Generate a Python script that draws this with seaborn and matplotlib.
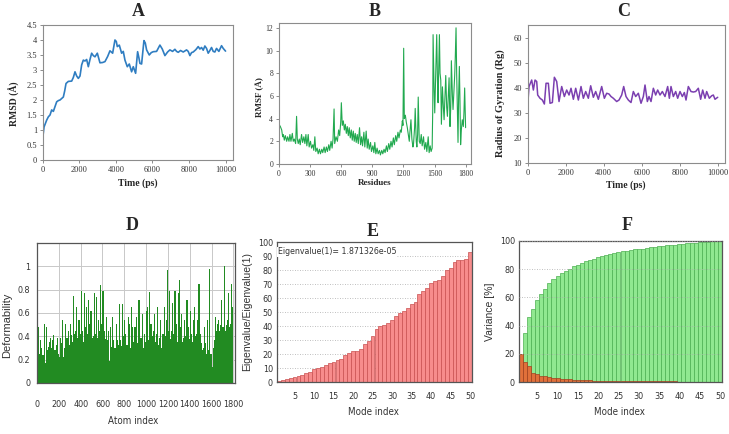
import numpy as np
import matplotlib
matplotlib.use("Agg")
import matplotlib.pyplot as plt
import seaborn as sns

# ---- data ----
# A: RMSD over time
rmsd_time = [0, 73, 218, 309, 400, 491, 582, 673, 764, 855, 946, 1037, 1128, 1201, 1274, 1401,
             1583, 1674, 1765, 1856, 1947, 2038, 2129, 2220, 2311, 2402, 2493, 2584, 2675, 2766,
             2857, 2985, 3130, 3276, 3403, 3549, 3676, 3822, 3949, 4022, 4077, 4186, 4313, 4404,
             4495, 4623, 4732, 4859, 4950, 5078, 5187, 5260, 5314, 5405, 5533, 5606, 5678, 5824,
             5933, 6042, 6224, 6406, 6534, 6679, 6825, 6952, 7098, 7225, 7316, 7407, 7534, 7680,
             7862, 7953, 8044, 8135, 8226, 8372, 8499, 8590, 8681, 8772, 8863, 8954, 9045, 9136,
             9227, 9318, 9409, 9500, 9628, 9774, 9865, 9992]
rmsd_val = [0.72, 1.10, 1.33, 1.44, 1.50, 1.67, 1.62, 1.78, 1.94, 1.98, 2.00, 2.05, 2.10, 2.30, 2.55, 2.62,
            2.63, 2.75, 2.94, 2.80, 2.72, 2.80, 3.17, 3.33, 3.30, 3.35, 3.11, 3.35, 3.56, 3.48,
            3.44, 3.56, 3.24, 3.25, 3.28, 3.45, 3.64, 3.56, 4.00, 3.95, 3.78, 3.83, 3.56, 3.62,
            3.33, 3.11, 3.20, 2.94, 3.11, 2.89, 3.61, 3.40, 3.22, 3.20, 3.98, 3.90, 3.67, 3.50,
            3.58, 3.61, 3.62, 3.83, 3.70, 3.48, 3.60, 3.67, 3.62, 3.69, 3.62, 3.59, 3.65, 3.60,
            3.67, 3.62, 3.48, 3.58, 3.60, 3.68, 3.78, 3.70, 3.75, 3.66, 3.80, 3.72, 3.56, 3.65,
            3.75, 3.62, 3.60, 3.72, 3.62, 3.81, 3.72, 3.63]

# B: RMSF per residue
rmsf_res = [0, 3, 16, 29, 38, 45, 54, 64, 77, 86, 99, 108, 118, 131, 140, 150, 163, 172, 179, 188,
            198, 207, 220, 230, 242, 252, 262, 271, 284, 293, 306, 316, 329, 338, 348, 357, 370, 380,
            392, 402, 415, 424, 437, 447, 459, 469, 482, 491, 504, 514, 523, 533, 539, 552, 565, 577,
            587, 597, 603, 612, 622, 632, 641, 651, 660, 670, 679, 689, 699, 708, 718, 727, 737, 746,
            756, 766, 778, 788, 798, 807, 820, 829, 842, 852, 861, 871, 884, 893, 906, 916, 925, 935,
            947, 957, 970, 979, 992, 1002, 1014, 1024, 1037, 1046, 1059, 1069, 1081, 1091, 1104, 1113,
            1126, 1136, 1148, 1158, 1171, 1180, 1190, 1196, 1203, 1209, 1219, 1228, 1238, 1247, 1257,
            1263, 1273, 1282, 1292, 1298, 1308, 1314, 1324, 1330, 1337, 1343, 1353, 1362, 1372, 1381,
            1394, 1404, 1416, 1426, 1439, 1448, 1458, 1467, 1477, 1483, 1486, 1496, 1502, 1512, 1521,
            1528, 1534, 1541, 1547, 1553, 1560, 1566, 1576, 1585, 1592, 1601, 1608, 1617, 1624, 1633,
            1640, 1649, 1656, 1662, 1672, 1678, 1687, 1694, 1700, 1707, 1713, 1720, 1726, 1732, 1739,
            1745, 1751, 1758, 1767, 1777, 1783, 1790, 1799]
rmsf_val = [3.0, 3.5, 3.3, 3.0, 2.4, 2.6, 2.1, 2.5, 2.0, 2.4, 2.0, 2.6, 2.0, 2.7, 2.0, 2.2, 1.8, 4.2, 2.2, 1.8,
            2.2, 1.7, 2.6, 1.9, 2.4, 1.8, 2.6, 1.6, 2.6, 1.5, 2.0, 1.4, 1.7, 1.2, 2.4, 1.1, 1.4, 0.9,
            1.3, 0.9, 1.3, 1.0, 1.5, 1.0, 1.5, 1.1, 1.7, 1.2, 2.0, 1.4, 2.2, 4.85, 1.8, 2.4, 2.0, 3.0,
            2.5, 3.7, 5.4, 3.4, 3.8, 3.0, 3.5, 2.7, 3.3, 2.5, 3.2, 2.3, 3.0, 2.1, 2.9, 2.0, 2.7, 1.9,
            2.6, 1.8, 3.2, 1.7, 2.4, 1.6, 2.8, 1.5, 2.9, 1.4, 2.2, 1.3, 1.9, 1.1, 1.6, 1.0, 1.9, 0.9,
            1.4, 0.9, 1.2, 0.8, 1.2, 0.9, 1.3, 1.0, 1.6, 1.1, 1.8, 1.3, 2.0, 1.5, 2.3, 1.7,
            2.5, 2.0, 2.8, 2.3, 3.0, 2.8, 3.8, 3.4, 10.2, 4.0, 4.3, 3.7, 3.2, 2.6, 2.0,
            2.8, 3.9, 2.2, 1.5, 1.8, 3.2, 4.9, 2.0, 1.5, 2.6, 5.9, 2.0, 1.8, 2.6, 1.6,
            2.4, 1.3, 1.9, 1.1, 2.4, 1.0, 1.6, 1.1, 1.4, 5.0, 11.4, 6.5, 4.5, 8.0, 11.4,
            7.5, 5.4, 8.5, 11.4, 8.0, 7.4, 3.5, 6.8, 5.0, 3.9, 6.0, 7.8, 5.0, 4.2, 6.0,
            7.6, 3.3, 5.0, 9.1, 6.0, 4.8, 6.5, 7.8, 9.5, 12.0, 8.0, 4.5, 1.9, 6.0, 8.6,
            5.5, 1.7, 3.0, 3.9, 3.3, 4.5, 6.7, 3.2]

# C: radius of gyration over time
rg_time = [0, 70, 210, 298, 386, 474, 526, 649, 772, 877, 965, 1087, 1175, 1298, 1403, 1526, 1649,
           1789, 1929, 2052, 2175, 2280, 2403, 2526, 2666, 2806, 2929, 3052, 3192, 3315, 3455, 3578,
           3718, 3894, 4034, 4157, 4280, 4385, 4508, 4683, 4806, 4946, 5052, 5174, 5297, 5437, 5560,
           5683, 5823, 5964, 6086, 6174, 6297, 6385, 6490, 6613, 6735, 6841, 6964, 7086, 7226, 7367,
           7455, 7542, 7665, 7788, 7893, 8016, 8139, 8244, 8332, 8454, 8595, 8717, 8840, 8980, 9103,
           9209, 9332, 9419, 9559, 9682, 9770, 9858, 10000]
rg_val = [33.3, 40.7, 43.3, 39.3, 43.3, 42.7, 37.3, 36.0, 35.3, 33.7, 42.0, 42.0, 34.0, 34.3, 44.4, 42.7, 34.7,
          40.7, 36.7, 39.3, 37.3, 40.0, 35.6, 40.0, 35.3, 40.7, 36.0, 38.7, 36.0, 41.0, 36.4, 38.7,
          35.6, 40.7, 36.0, 38.0, 37.7, 36.7, 36.0, 34.7, 35.3, 37.3, 40.7, 36.7, 35.3, 34.3, 38.7,
          36.7, 38.0, 34.0, 36.7, 41.3, 34.7, 36.7, 34.7, 40.0, 37.3, 39.3, 37.3, 38.7, 36.7, 40.7,
          36.0, 40.7, 36.7, 38.7, 36.0, 38.7, 36.7, 38.3, 35.3, 40.7, 38.7, 38.5, 38.7, 40.0, 35.6,
          39.3, 36.0, 38.7, 36.0, 37.0, 37.3, 35.6, 36.4]

# D: deformability, one value per 10 atoms
deform = [0.85, 0.48, 0.25, 0.37, 0.30, 0.24, 0.51, 0.17, 0.48, 0.28,
          0.31, 0.35, 0.39, 0.30, 0.37, 0.41, 0.28, 0.33, 0.39, 0.25,
          0.22, 0.39, 0.34, 0.54, 0.22, 0.30, 0.51, 0.39, 0.45, 0.33,
          0.51, 0.41, 0.35, 0.75, 0.42, 0.45, 0.65, 0.39, 0.54, 0.42,
          0.79, 0.45, 0.35, 0.77, 0.48, 0.65, 0.42, 0.71, 0.51, 0.62,
          0.39, 0.40, 0.77, 0.42, 0.74, 0.39, 0.54, 0.45, 0.84, 0.51,
          0.79, 0.45, 0.38, 0.57, 0.37, 0.45, 0.19, 0.48, 0.31, 0.57,
          0.37, 0.30, 0.51, 0.37, 0.33, 0.68, 0.37, 0.32, 0.68, 0.40,
          0.54, 0.42, 0.33, 0.57, 0.51, 0.30, 0.65, 0.48, 0.35, 0.48,
          0.48, 0.57, 0.34, 0.71, 0.39, 0.39, 0.59, 0.30, 0.42, 0.35,
          0.62, 0.65, 0.37, 0.78, 0.51, 0.40, 0.45, 0.59, 0.35, 0.42,
          0.65, 0.33, 0.39, 0.54, 0.30, 0.42, 0.65, 0.40, 0.54, 0.97,
          0.45, 0.79, 0.38, 0.45, 0.69, 0.42, 0.79, 0.51, 0.35, 0.77,
          0.88, 0.48, 0.59, 0.35, 0.39, 0.54, 0.40, 0.71, 0.48, 0.38,
          0.62, 0.42, 0.35, 0.54, 0.65, 0.40, 0.42, 0.54, 0.85, 0.42,
          0.34, 0.28, 0.30, 0.48, 0.34, 0.25, 0.54, 0.28, 0.98, 0.25,
          0.14, 0.30, 0.37, 0.57, 0.45, 0.51, 0.54, 0.45, 0.50, 0.71,
          0.48, 1.00, 0.45, 0.50, 0.54, 0.77, 0.48, 0.51, 0.85, 0.65]
atom_idx = list(range(0, 10 * len(deform), 10))

# E: eigenvalues relative to the first
modes = list(range(1, 51))
eigen_rel = [0.5, 1.5, 2, 3, 3.5, 4, 5, 6.5, 7, 9, 10, 11, 12.5, 13.5, 14.5, 15.5, 16.5, 19, 20.5, 22,
             22, 23.5, 27.5, 29.5, 33, 38, 40, 41, 42.5, 44, 47, 49, 50.5, 53, 56, 57, 63, 65, 67.5, 71,
             72, 73, 76, 80, 81.5, 86, 87, 87.5, 88, 93]

# F: individual and cumulative variance
var_indiv = [20, 14.5, 11, 6.5, 5.5, 4.5, 4, 3.5, 3, 2.5, 2.2, 2, 1.8, 1.6, 1.5, 1.3, 1.2, 1.1, 1.0, 0.9,
             0.85, 0.8, 0.75, 0.7, 0.65, 0.6, 0.58, 0.55, 0.52, 0.5, 0.48, 0.46, 0.44, 0.42, 0.4, 0.39,
             0.38, 0.37, 0.36, 0.35, 0.34, 0.33, 0.32, 0.31, 0.3, 0.3, 0.3, 0.3, 0.3, 0.3]
var_cumul = [20, 34.8, 46, 52, 58, 62.6, 66, 70, 73, 75, 77, 79, 80.4, 82, 83, 84.6, 86, 86.8, 87.5, 88.4,
             89.4, 90.3, 90.8, 91.5, 92.2, 92.7, 93, 93.6, 94, 94.5, 94.5, 95, 95.5, 96, 96.2, 96.7,
             97, 97.2, 97.4, 97.9, 98.1, 98.3, 98.6, 98.8, 99, 99.3, 99.5, 99.8, 100, 100]

sns.set_style("white")
serif = "Liberation Serif"
narrow = "DejaVu Sans"

W, H = 729, 434
fig = plt.figure(figsize=(W / 100, H / 100), dpi=100)


def rect(l, t, r, b):
    return [l / W, 1 - b / H, (r - l) / W, (b - t) / H]


def excel_axes(ax):
    for s in ax.spines.values():
        s.set_color("#8c8c8c")
        s.set_linewidth(0.8)
    ax.tick_params(direction="out", length=2.5, width=0.7, color="#8c8c8c", pad=1.5,
                   labelsize=6, bottom=True, left=True)
    for lab in ax.get_xticklabels() + ax.get_yticklabels():
        lab.set_family(serif)
        lab.set_color("#333333")


# ---- A ----
axA = fig.add_axes(rect(42.7, 25, 233, 160))
sns.lineplot(x=rmsd_time, y=rmsd_val, ax=axA, color="#2F7DC1", lw=1.2)
axA.set_xlim(0, 10400)
axA.set_ylim(0, 4.5)
axA.set_xticks([0, 2000, 4000, 6000, 8000, 10000])
axA.set_yticks([0, 0.5, 1, 1.5, 2, 2.5, 3, 3.5, 4, 4.5])
axA.set_yticklabels(["0", "0.5", "1", "1.5", "2", "2.5", "3", "3.5", "4", "4.5"])
excel_axes(axA)
axA.set_xlabel("Time (ps)", family=serif, weight="bold", fontsize=7, va="center")
axA.xaxis.set_label_coords(0.5, -0.17)
axA.set_ylabel("RMSD (Å)", family=serif, weight="bold", fontsize=7, va="center")
axA.yaxis.set_label_coords(-0.146, 0.42)

# ---- B ----
axB = fig.add_axes(rect(278.7, 23.3, 471, 164))
sns.lineplot(x=rmsf_res, y=rmsf_val, ax=axB, color="#21A94F", lw=0.8)
axB.set_xlim(0, 1851)
axB.set_ylim(0, 12.4)
axB.set_xticks([0, 300, 600, 900, 1200, 1500, 1800])
axB.set_yticks([0, 2, 4, 6, 8, 10, 12])
excel_axes(axB)
axB.tick_params(labelsize=5.5)
axB.set_xlabel("Residues", family=serif, weight="bold", fontsize=6.5, va="center")
axB.xaxis.set_label_coords(0.5, -0.135)
axB.set_ylabel("RMSF (Å)", family=serif, weight="bold", fontsize=6.5, va="center")
axB.yaxis.set_label_coords(-0.097, 0.476)

# ---- C ----
axC = fig.add_axes(rect(527.7, 25, 725, 163.3))
sns.lineplot(x=rg_time, y=rg_val, ax=axC, color="#7B3FB0", lw=1.1)
axC.set_xlim(0, 10384)
axC.set_ylim(10, 65.3)
axC.set_xticks([0, 2000, 4000, 6000, 8000, 10000])
axC.set_yticks([10, 20, 30, 40, 50, 60])
excel_axes(axC)
axC.set_xlabel("Time (ps)", family=serif, weight="bold", fontsize=7, va="center")
axC.xaxis.set_label_coords(0.497, -0.157)
axC.set_ylabel("Radius of Gyration (Rg)", family=serif, weight="bold", fontsize=7.5, va="center")
axC.yaxis.set_label_coords(-0.137, 0.436)


def gnu_axes(ax, pad_x, pad_y):
    for s in ax.spines.values():
        s.set_color("#555555")
        s.set_linewidth(0.9)
    ax.tick_params(length=0, labelsize=6.5, labelcolor="#333333", pad=pad_x, axis="x")
    ax.tick_params(length=0, labelsize=6.5, labelcolor="#333333", pad=pad_y, axis="y")
    for lab in ax.get_xticklabels() + ax.get_yticklabels():
        lab.set_family(narrow)
        lab.set_fontstretch("condensed")


# ---- D ----
axD = fig.add_axes(rect(37, 243, 235, 383))
axD.bar(atom_idx, deform, width=10, align="edge", color="#228B22", linewidth=0)
axD.set_xlim(0, 1815)
axD.set_ylim(0, 1.2)
axD.set_xticks(range(0, 1801, 200))
axD.set_yticks([0, 0.2, 0.4, 0.6, 0.8, 1.0])
axD.set_yticklabels(["0", "0.2", "0.4", "0.6", "0.8", "1"])
axD.grid(True, color="#c8c8c8", lw=0.7)
axD.set_axisbelow(True)
gnu_axes(axD, 12, 5)
axD.set_xlabel("Atom index", family=narrow, fontstretch="condensed", fontsize=7,
               color="#333333", va="center")
axD.xaxis.set_label_coords(0.485, -0.269)
axD.set_ylabel("Deformability", family="Liberation Sans", fontsize=8, color="#333333", va="center")
axD.yaxis.set_label_coords(-0.15, 0.414)

# ---- E ----
axE = fig.add_axes(rect(277, 242, 472, 382))
sns.barplot(x=modes, y=eigen_rel, ax=axE, color="#F78C8C", edgecolor="#C85050",
            linewidth=0.5, width=1.0, saturation=1, errorbar=None)
axE.set_xlim(-0.5, 49.5)
axE.set_ylim(0, 100)
axE.set_xticks(range(4, 50, 5))
axE.set_xticklabels([str(m) for m in range(5, 51, 5)])
axE.set_yticks(range(0, 101, 10))
axE.yaxis.grid(True, color="#aaaaaa", lw=0.6, ls=(0, (1, 2)))
axE.set_axisbelow(True)
gnu_axes(axE, 7, 3)
axE.set_xlabel("Mode index", family=narrow, fontstretch="condensed", fontsize=7,
               color="#333333", va="center")
axE.xaxis.set_label_coords(0.494, -0.212)
axE.set_ylabel("Eigenvalue/Eigenvalue(1)", family="Liberation Sans", fontsize=7.5,
               color="#333333", va="center")
axE.yaxis.set_label_coords(-0.152, 0.502)
axE.text(0.005, 0.93, "Eigenvalue(1)= 1.871326e-05", transform=axE.transAxes, family=narrow,
         fontstretch="condensed", fontsize=6.3, color="#333333", va="center", ha="left",
         bbox=dict(facecolor="white", edgecolor="none", pad=0.5))

# ---- F ----
axF = fig.add_axes(rect(519, 241, 722, 382))
sns.barplot(x=modes, y=var_cumul, ax=axF, color="#90E890", edgecolor="#4CAF50",
            linewidth=0.5, width=1.0, saturation=1, errorbar=None)
sns.barplot(x=modes, y=var_indiv, ax=axF, color="#E0703A", edgecolor="#A04020",
            linewidth=0.5, width=1.0, saturation=1, errorbar=None)
axF.set_xlim(-0.5, 49.5)
axF.set_ylim(0, 100)
axF.set_xticks(range(4, 50, 5))
axF.set_xticklabels([str(m) for m in range(5, 51, 5)])
axF.set_yticks(range(0, 101, 20))
axF.yaxis.grid(True, color="#aaaaaa", lw=0.6, ls=(0, (1, 2)))
axF.set_axisbelow(False)
gnu_axes(axF, 7, 3)
axF.set_xlabel("Mode index", family=narrow, fontstretch="condensed", fontsize=7,
               color="#333333", va="center")
axF.xaxis.set_label_coords(0.494, -0.21)
axF.set_ylabel("Variance [%]", family="Liberation Sans", fontsize=7.5, color="#333333", va="center")
axF.yaxis.set_label_coords(-0.143, 0.5)

# ---- panel letters ----
for letter, px, py in [("A", 138, 11), ("B", 375, 11), ("C", 624, 12),
                       ("D", 132, 225), ("E", 373, 231), ("F", 627, 225)]:
    fig.text(px / W, 1 - py / H, letter, family=serif, weight="bold", fontsize=13,
             ha="center", va="center")

fig.savefig("out.png", dpi=100)
